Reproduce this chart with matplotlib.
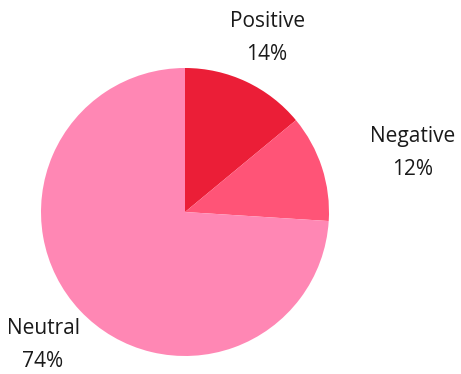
import matplotlib
matplotlib.use("Agg")
import matplotlib.pyplot as plt

categories = ["Positive", "Negative", "Neutral"]
shares = [14, 12, 74]
colors = ["#EB1E37", "#FF5477", "#FF87B4"]
# label anchor points, in units of the pie radius
label_xy = [(0.57, 1.205), (1.583, 0.41), (-0.986, -0.925)]

W, H, DPI = 461, 374, 100
R_PX = 144.0
CX, CY = 185.0, 212.0

fig = plt.figure(figsize=(W / DPI, H / DPI), dpi=DPI)
ax = fig.add_axes([0, 0, 1, 1])
ax.pie(shares, colors=colors, startangle=90, counterclock=False,
       radius=1.0, wedgeprops=dict(linewidth=0, antialiased=True))
ax.set_xlim(-CX / R_PX, (W - CX) / R_PX)
ax.set_ylim(-(H - CY) / R_PX, CY / R_PX)
ax.set_aspect("auto")
ax.axis("off")

for name, val, (lx, ly) in zip(categories, shares, label_xy):
    ax.text(lx, ly, f"{name}\n{val}%", ha="center", va="center",
            fontsize=15, family="Open Sans", color="#1a1a1a", linespacing=1.75)

fig.savefig("out.png", dpi=DPI)
